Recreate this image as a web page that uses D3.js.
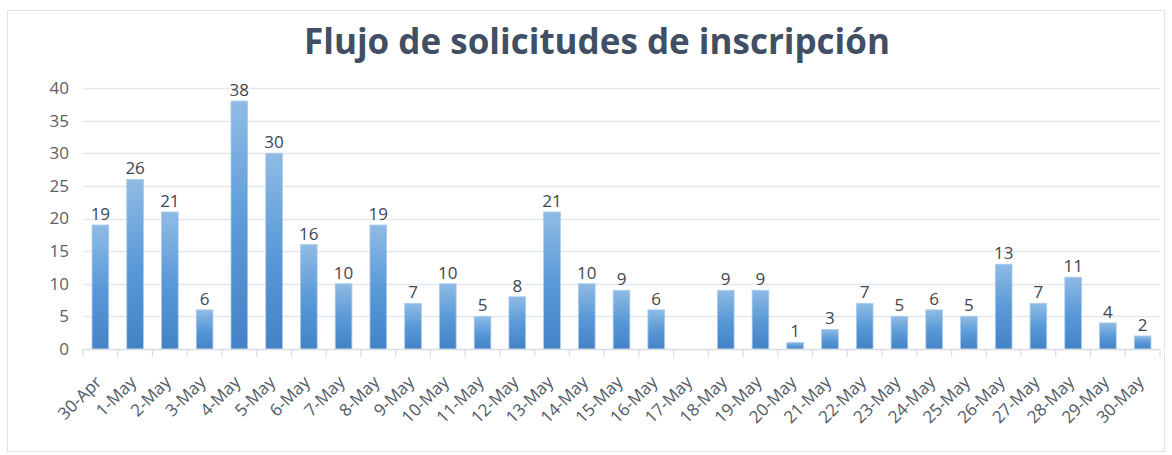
<!DOCTYPE html>
<html lang="es">
<head>
  <meta charset="UTF-8">
  <title>Flujo de solicitudes de inscripción</title>
  <script src="https://d3js.org/d3.v7.min.js"></script>
  <style>
    body { margin: 0; background: #fff; }
  </style>
</head>
<body>
  <div id="chart"></div>
  <script>
    // Data
    const days = ["30-Apr", "1-May", "2-May", "3-May", "4-May", "5-May", "6-May", "7-May",
      "8-May", "9-May", "10-May", "11-May", "12-May", "13-May", "14-May", "15-May",
      "16-May", "17-May", "18-May", "19-May", "20-May", "21-May", "22-May", "23-May",
      "24-May", "25-May", "26-May", "27-May", "28-May", "29-May", "30-May"];
    const requests = [19, 26, 21, 6, 38, 30, 16, 10, 19, 7, 10, 5, 8, 21, 10, 9,
      6, null, 9, 9, 1, 3, 7, 5, 6, 5, 13, 7, 11, 4, 2];
    const yTicks = [0, 5, 10, 15, 20, 25, 30, 35, 40];

    const width = 1172, height = 455;
    const margin = { top: 88, right: 12, bottom: 106, left: 83 };
    const font = "'Open Sans', 'DejaVu Sans', sans-serif";

    const svg = d3.select("#chart").append("svg")
      .attr("width", width)
      .attr("height", height);

    // gradient like the office bars
    const grad = svg.append("defs").append("linearGradient")
      .attr("id", "barGrad")
      .attr("x1", 0).attr("y1", 0).attr("x2", 0).attr("y2", 1);
    grad.append("stop").attr("offset", "0%").attr("stop-color", "#8fbbe4");
    grad.append("stop").attr("offset", "50%").attr("stop-color", "#5b9ad8");
    grad.append("stop").attr("offset", "100%").attr("stop-color", "#4382c6");

    // outer frame
    svg.append("rect")
      .attr("x", 7.5).attr("y", 10.5)
      .attr("width", width - 15).attr("height", height - 14)
      .attr("fill", "none")
      .attr("stroke", "#e3e3e3");

    const x = d3.scaleBand()
      .domain(days)
      .range([margin.left, width - margin.right])
      .paddingInner(0.52)
      .paddingOuter(0.26);

    const y = d3.scaleLinear()
      .domain([0, 40])
      .range([height - margin.bottom, margin.top]);

    // gridlines
    svg.append("g")
      .selectAll("line")
      .data(yTicks.filter(d => d > 0))
      .join("line")
      .attr("x1", margin.left)
      .attr("x2", width - margin.right)
      .attr("y1", d => Math.round(y(d)) + 0.5)
      .attr("y2", d => Math.round(y(d)) + 0.5)
      .attr("stroke", "#e4e7ec")
      .attr("stroke-width", 1.5);

    // y labels
    svg.append("g")
      .selectAll("text")
      .data(yTicks)
      .join("text")
      .attr("x", 69)
      .attr("y", d => y(d))
      .attr("dy", "0.35em")
      .attr("text-anchor", "end")
      .style("font-family", font)
      .style("font-size", "17px")
      .style("fill", "#595f68")
      .text(d => d);

    // bars
    const bars = days.map((d, i) => ({ day: d, value: requests[i] }));

    svg.append("g")
      .selectAll("rect")
      .data(bars.filter(d => d.value != null))
      .join("rect")
      .attr("x", d => x(d.day))
      .attr("y", d => y(d.value))
      .attr("width", x.bandwidth())
      .attr("height", d => y(0) - y(d.value))
      .attr("fill", "url(#barGrad)")
      .attr("stroke", "#a9cbec")
      .attr("stroke-width", 0.8);

    // value labels
    svg.append("g")
      .selectAll("text")
      .data(bars.filter(d => d.value != null))
      .join("text")
      .attr("x", d => x(d.day) + x.bandwidth() / 2)
      .attr("y", d => y(d.value) - 5)
      .attr("text-anchor", "middle")
      .style("font-family", font)
      .style("font-size", "17px")
      .style("fill", "#404650")
      .text(d => d.value);

    // x axis line and category ticks
    const step = x.step();
    const axis = svg.append("g");
    axis.append("line")
      .attr("x1", margin.left).attr("x2", width - margin.right)
      .attr("y1", y(0) + 0.5).attr("y2", y(0) + 0.5)
      .attr("stroke", "#d9dce1")
      .attr("stroke-width", 1.5);
    axis.selectAll(".tick")
      .data(d3.range(days.length + 1))
      .join("line")
      .attr("class", "tick")
      .attr("x1", i => margin.left + i * step)
      .attr("x2", i => margin.left + i * step)
      .attr("y1", y(0))
      .attr("y2", y(0) + 8)
      .attr("stroke", "#d9dce1")
      .attr("stroke-width", 1.2);

    axis.selectAll(".xlab")
      .data(days)
      .join("text")
      .attr("class", "xlab")
      .attr("text-anchor", "end")
      .attr("transform", d => `translate(${x(d) + x.bandwidth() / 2 - 2}, ${y(0) + 30}) rotate(-45)`)
      .attr("dy", "0.35em")
      .style("font-family", font)
      .style("font-size", "17px")
      .style("fill", "#4f5866")
      .text(d => d);

    // title
    svg.append("text")
      .attr("x", 597)
      .attr("y", 54)
      .attr("text-anchor", "middle")
      .style("font-family", font)
      .style("font-size", "35px")
      .style("font-weight", "bold")
      .style("fill", "#404f63")
      .text("Flujo de solicitudes de inscripción");
  </script>
</body>
</html>
